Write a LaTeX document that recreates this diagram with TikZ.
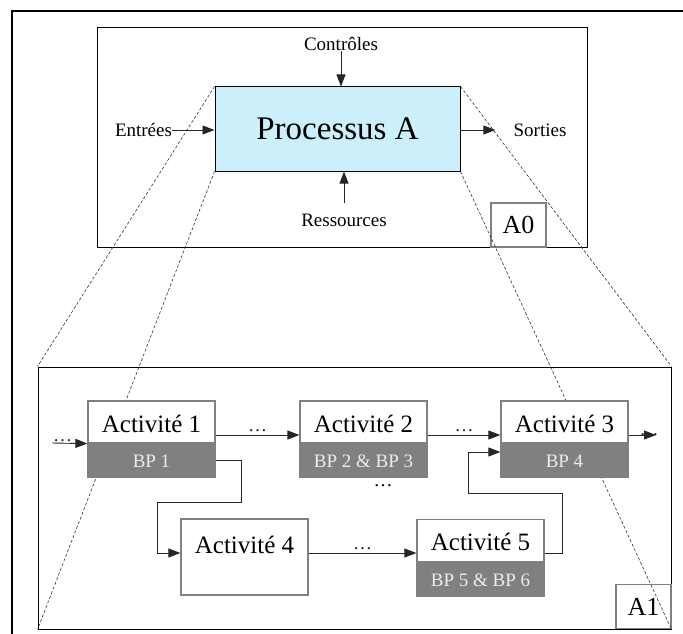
\documentclass[tikz,border=0pt]{standalone}
\usepackage{fontspec}
\setmainfont{Liberation Serif}
\usetikzlibrary{arrows.meta}
\begin{document}
\begin{tikzpicture}[x=1pt, y=-1pt,
	fl/.style={-{Triangle[length=12pt,width=9pt]}, line width=.9pt, black!85},
	zoomline/.style={dash pattern=on 3pt off 2pt, line width=.6pt, black!80},
	txt/.style={inner sep=0pt, font=\fontsize{19}{19}\selectfont},
	frame/.style={draw, line width=1pt, inner sep=0pt},
	act/.style={draw=gray, line width=1.2pt, fill=white, minimum width=127pt, inner sep=0pt, text height=31pt, text depth=11pt, font=\fontsize{25}{25}\selectfont},
	bp/.style={draw=gray, line width=1.2pt, fill=gray, text=white!85!gray, minimum width=127pt, inner sep=0pt, text height=24pt, text depth=10pt, font=\fontsize{19}{19}\selectfont},
	tag/.style={draw=gray, line width=1.2pt, fill=white, inner sep=0pt, minimum width=55pt, minimum height=44pt, font=\fontsize{26}{26}\selectfont}]
	\useasboundingbox (0,0) rectangle (683,634);
	\draw[line width=2pt] (11.5,634) |- (683,11.5);
	\node[frame, minimum width=490pt, minimum height=219pt] (fa0) at (342,137.5) {};
	\node[tag] (t0) at (518.5,225) {A0};
	\node[frame, minimum width=633pt, minimum height=262pt] (fa1) at (354.5,498) {};
	\node[tag] (t1) at (643.5,606.5) {A1};
	\node[frame, fill=cyan!20, minimum width=245pt, minimum height=84pt, font=\fontsize{33}{33}\selectfont] (proc) at (337.5,129) {Processus A};
	\draw[zoomline] (proc.north west) -- (fa1.north west) (proc.south west) -- (fa1.south west)
		(proc.north east) -- (fa1.north east) (proc.south east) -- (fa1.south east);
	\node[txt, anchor=south] (ctrl) at (341,51) {Contrôles};
	\node[txt] (ent) at (143.5,130) {Entrées};
	\node[txt] (sort) at (540,130) {Sorties};
	\node[txt, anchor=north] (res) at (344,214) {Ressources};
	\draw[fl] (ctrl.south) -- (ctrl.south |- proc.north);
	\draw[fl] (ent.east) -- (ent.east -| proc.west);
	\draw[fl, shorten >=18pt] (proc.east |- sort.west) -- (sort.west);
	\draw[fl] ([yshift=11pt]res.north) -- (res.north |- proc.south);
	\node[act] (a1) at (151.5,422) {Activité 1};
	\node[bp] (b1) at (151.5,460) {BP 1};
	\node[act] (a2) at (363.5,422) {Activité 2};
	\node[bp] (b2) at (363.5,460) {BP 2 \& BP 3};
	\node[act] (a3) at (564.5,422) {Activité 3};
	\node[bp] (b3) at (564.5,460) {BP 4};
	\node[act, text height=34pt, text depth=42pt] (a4) at (244.5,557) {Activité 4};
	\node[act] (a5) at (480.5,540.5) {Activité 5};
	\node[bp] (b5) at (480.5,579) {BP 5 \& BP 6};
	\coordinate (in1) at (52,443);
	\coordinate (out3) at (656,435);
	\draw[fl] (in1) -- node[txt, above=1pt, pos=.3] {\ldots} (a1.south west);
	\draw[fl] ([yshift=-13pt]a1.east) -- node[txt, above=3pt] {\ldots} ([yshift=-13pt]a1.east -| a2.west);
	\draw[fl] ([yshift=-13pt]a2.east) -- node[txt, above=3pt] {\ldots} ([yshift=-13pt]a2.east -| a3.west);
	\draw[fl] ([yshift=-13pt]a3.east) -- node[txt, above=-1pt, pos=.75] {\ldots} (out3);
	\draw[fl] (b1.east) -| (241,502) -| (157,553) -- ([yshift=4pt]a4.west);
	\draw[fl] ([yshift=4pt]a4.east) -- node[txt, above=3pt] {\ldots} ([yshift=4pt]a4.east -| a5.west);
	\draw[fl] ([yshift=-12.5pt]a5.east) -| (562,493) -| (468,452) -- ([yshift=8pt]b3.west);
	\node[txt] (dots2) at (383,486) {\ldots};
\end{tikzpicture}
\end{document}
